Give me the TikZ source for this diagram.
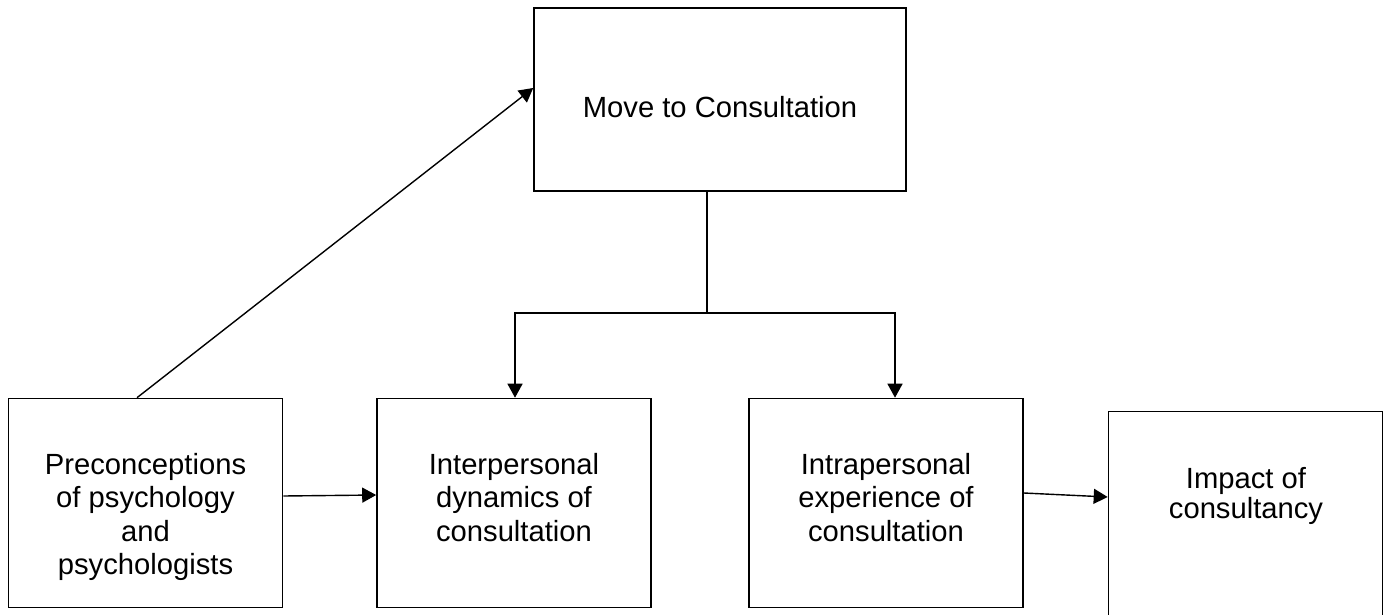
\documentclass[tikz,border=0pt]{standalone}
\usepackage{fontspec}
\setmainfont{Liberation Sans}
\usetikzlibrary{arrows.meta}

\tikzset{
  box/.style={draw, line width=0.8pt, minimum width=137pt, minimum height=104.5pt, inner sep=0pt},
  txt/.style={align=center, inner sep=0pt, font=\fontsize{14.6}{16.7}\selectfont},
  arr/.style={line width=0.7pt, -{Triangle[length=7pt,width=7.5pt]}}
}

\begin{document}
\begin{tikzpicture}[x=0.5pt,y=-0.5pt]
  \path[use as bounding box, clip] (0,0) rectangle (1386,615);
  % boxes
  \node[box, minimum width=186pt, minimum height=91.5pt] (move) at (720,99.5) {};
  \node[box] (pre) at (145.5,503) {};
  \node[box] (inter) at (514,503) {};
  \node[box] (intra) at (886,503) {};
  \node[box] (impact) at (1245.5,516) {};
  % texts
  \node[txt, anchor=base] (movetxt) at (720,118) {Move to Consultation};
  \node[txt, anchor=north] (pretxt) at (145.5,453) {Preconceptions\\of psychology\\and\\psychologists};
  \node[txt, anchor=north] (intertxt) at (514,453) {Interpersonal\\dynamics of\\consultation};
  \node[txt, anchor=north] (intratxt) at (886,453) {Intrapersonal\\experience of\\consultation};
  \node[txt, anchor=north, font=\fontsize{14.6}{15}\selectfont] (impacttxt) at (1246,467) {Impact of\\consultancy};
  % connectors
  \draw[arr] ([xshift=-4.25pt]pre.north) -- ([yshift=5.75pt]move.west);
  \coordinate (fork) at (707,313);
  \draw[line width=0.7pt] (fork |- move.south) -- (fork);
  \draw[arr] (fork) -| ([xshift=0.5pt]inter.north);
  \draw[arr] (fork) -| ([xshift=4.5pt]intra.north);
  \draw[arr] ([yshift=3.5pt]pre.east) -- ([yshift=4pt]inter.west);
  \draw[arr] ([yshift=5pt]intra.east) -- ([yshift=9.5pt]impact.west);
\end{tikzpicture}
\end{document}
